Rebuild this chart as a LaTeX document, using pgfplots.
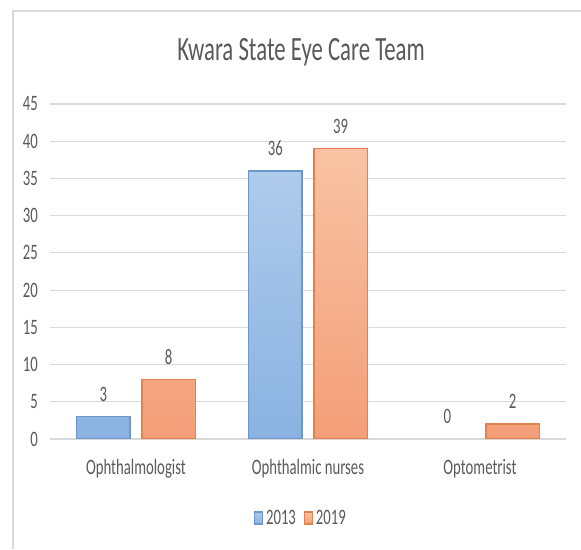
\documentclass[border=0pt]{standalone}
\usepackage{fontspec}
\setmainfont{Carlito}[FakeStretch=0.67]
\usepackage{pgfplots}
\pgfplotsset{compat=1.18}
\definecolor{tgray}{HTML}{595959}
\definecolor{ggray}{HTML}{D9D9D9}
\definecolor{btop}{HTML}{AECBEB}
\definecolor{bbot}{HTML}{8AB2E1}
\definecolor{bedge}{HTML}{6E98CC}
\definecolor{otop}{HTML}{F8C3A4}
\definecolor{obot}{HTML}{F49E78}
\definecolor{oedge}{HTML}{E0824A}
\begin{document}
\begin{tikzpicture}
\useasboundingbox (0,0) rectangle (435.75pt,411.75pt);
% frame (pixel x=13, y=11)
\draw[ggray, line width=1.2pt] (9.75pt,0pt) -- (9.75pt,403.5pt) -- (436pt,403.5pt);
\node[anchor=base, text=tgray, font=\fontsize{25.5}{28}\selectfont, inner sep=0pt] at (225.75pt,366pt) {Kwara State Eye Care Team};
\begin{axis}[
  at={(37.5pt,82.5pt)}, anchor=south west,
  scale only axis, width=387pt, height=251.25pt,
  /pgf/number format/assume math mode=true,
  xmin=-0.5, xmax=2.5, ymin=0, ymax=45,
  ytick={0,5,...,45},
  xtick={0,1,2},
  xticklabels={Ophthalmologist, Ophthalmic nurses, Optometrist},
  major tick length=0pt,
  axis line style={draw=none},
  ymajorgrids, grid style={ggray, line width=0.9pt},
  ticklabel style={text=tgray, font=\fontsize{16.5}{18}\selectfont},
  yticklabel style={anchor=east, inner sep=0pt, xshift=-9pt},
  xticklabel style={anchor=base, inner sep=0pt, yshift=-27pt},
  ybar, bar width=0.31,
  nodes near coords,
  nodes near coords style={anchor=base, inner sep=0pt, yshift=11.5pt, text=tgray, font=\fontsize{16.5}{18}\selectfont},
  legend style={at={(0.487,-0.236)}, anchor=center, draw=none, fill=none,
    legend columns=2, font=\fontsize{16.5}{18}\selectfont, text=tgray,
    /tikz/every even column/.append style={column sep=4pt}},
  legend image code/.code={\draw[#1] (0pt,-4.5pt) rectangle (6pt,4.5pt);},
]
\addplot[bar shift=-0.19, draw=bedge, line width=1pt, top color=btop, bottom color=bbot]
  coordinates {(0,3) (1,36)};
\addplot[bar shift=0.19, draw=oedge, line width=1pt, top color=otop, bottom color=obot]
  coordinates {(0,8) (1,39) (2,2)};
\addplot[bar shift=-0.19, draw=none, fill=none, forget plot]
  coordinates {(2,0)};
\legend{2013,2019}
\end{axis}
\end{tikzpicture}
\end{document}
